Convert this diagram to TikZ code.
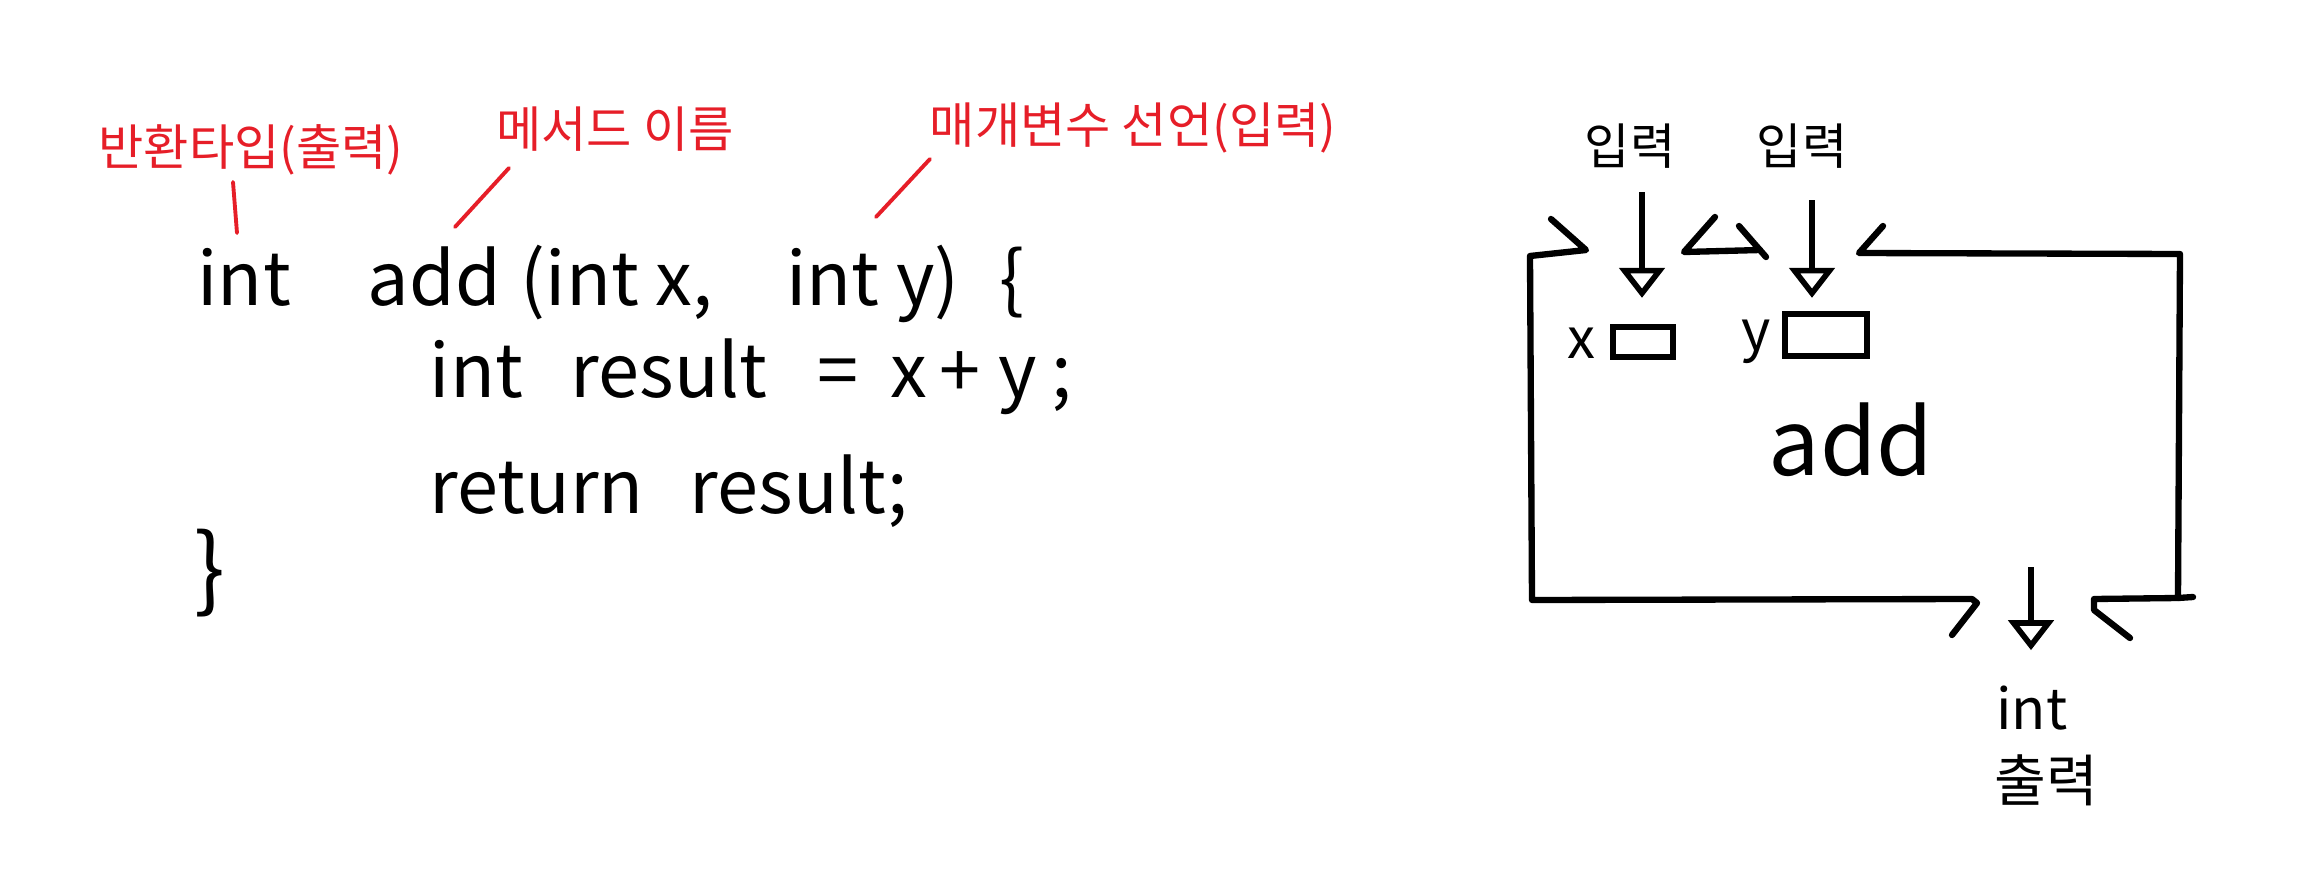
\documentclass[tikz,border=0pt]{standalone}
\usepackage{fontspec}
\setmainfont{Noto Sans CJK KR}
\usetikzlibrary{arrows.meta}
\definecolor{penred}{RGB}{230,30,40}

\tikzset{
  code/.style={anchor=base west, inner sep=0pt, font=\fontsize{21}{25}\selectfont},
  note/.style={text=penred, inner sep=0pt, font=\fontsize{14}{16}\selectfont},
  tag/.style={inner sep=0pt, font=\fontsize{14}{16}\selectfont},
  pointer/.style={draw=penred, line width=1.1pt, line cap=round},
  wall/.style={line width=1.8pt, line cap=round, line join=round},
  feed/.style={line width=1.8pt, -{Triangle[open, length=0.3cm, width=0.45cm, line width=1.6pt]}},
  slot/.style={draw, line width=1.8pt, minimum width=0.6cm, minimum height=0.3cm, inner sep=0pt}
}

\begin{document}
\begin{tikzpicture}[x=1cm, y=-1cm]
   \useasboundingbox (0,0) rectangle (23.05,8.92);

   \node[note, name=rettype] at (2.51,1.50) {반환타입(출력)};
   \node[note, name=mname] at (6.15,1.29) {메서드 이름};
   \node[note, name=params] at (11.33,1.28) {매개변수 선언(입력)};

   \node[code, name=sig] at (1.97,3.05) {int\hspace{0.77cm}add\hspace{0.2cm}(int x,\hspace{0.73cm}int y)\hspace{0.4cm}\{};
   \node[code, name=body] at (4.29,3.97) {int\hspace{0.48cm}result\hspace{0.5cm}=\hspace{0.32cm}x\hspace{0.12cm}+\hspace{0.18cm}y\hspace{0.15cm};};
   \node[code, name=ret] at (4.29,5.13) {return\hspace{0.46cm}result;};
   \node[inner sep=0pt, font=\fontsize{26}{30}\selectfont, name=close] at (2.10,5.73) {\}};

   \coordinate (rt1) at (2.33,1.82);
   \coordinate (rt2) at (2.37,2.33);
   \coordinate (mn1) at (5.09,1.68);
   \coordinate (mn2) at (4.55,2.27);
   \coordinate (pa1) at (9.30,1.59);
   \coordinate (pa2) at (8.76,2.17);
   \path[pointer]
      (rt1) edge (rt2)
      (mn1) edge (mn2)
      (pa1) edge (pa2);

   \node[tag, name=inx] at (16.30,1.46) {입력};
   \node[tag, name=iny] at (18.02,1.46) {입력};
   \node[font=\fontsize{16}{18}\selectfont, inner sep=0pt, name=px] at (15.81,3.43) {x};
   \node[slot, name=bx] at (16.43,3.42) {};
   \node[font=\fontsize{16}{18}\selectfont, inner sep=0pt, name=py] at (17.56,3.42) {y};
   \node[slot, minimum width=0.82cm, minimum height=0.42cm, name=by] at (18.26,3.35) {};
   \node[font=\fontsize{26}{30}\selectfont, inner sep=0pt, name=fn] at (18.51,4.40) {add};

   \coordinate (ax) at (16.42,1.92);
   \coordinate (ay) at (18.12,2.00);
   \coordinate (out) at (20.31,5.67);
   \node[font=\fontsize{16}{18}\selectfont, inner sep=0pt, name=rint] at (20.32,7.08) {int};
   \node[font=\fontsize{16}{18}\selectfont, inner sep=0pt, name=rout] at (20.46,7.80) {출력};

   \draw[feed] (ax) -- ([yshift=0.26cm]ax |- bx.north);
   \draw[feed] (ay) -- ([yshift=0.13cm]ay |- by.north);
   \draw[feed] (out) -- ([yshift=0.35cm]out |- rint.north);

   \draw[wall] (15.51,2.19) -- (15.86,2.50) -- (15.30,2.56) -- (15.32,6.00)
      -- (19.72,5.99) -- (19.77,6.03) -- (19.52,6.35);
   \draw[wall] (17.15,2.17) -- (16.84,2.52) -- (17.60,2.50);
   \draw[wall] (17.39,2.26) -- (17.66,2.57);
   \draw[wall] (18.83,2.26) -- (18.59,2.53) -- (21.80,2.54) -- (21.78,5.98)
      -- (20.94,5.99) -- (20.94,6.10) -- (21.30,6.38);
   \draw[wall] (21.78,5.98) -- (21.93,5.97);
\end{tikzpicture}
\end{document}
